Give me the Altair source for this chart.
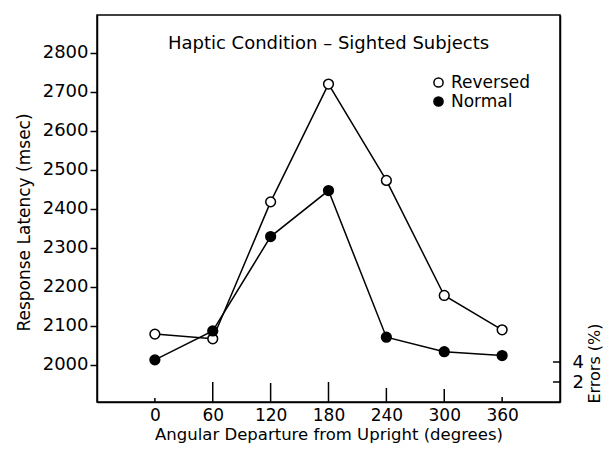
import altair as alt
import pandas as pd

angles = [0, 60, 120, 180, 240, 300, 360]
reversed_ms = [2079, 2067, 2418, 2720, 2473, 2178, 2090]
normal_ms = [2013, 2087, 2329, 2447, 2071, 2034, 2024]
errors_pct = [0.4, 2.0, 1.9, 2.0, 1.4, 1.3, 0.5]
series = ["Reversed", "Normal"]
y_ticks = [2000, 2100, 2200, 2300, 2400, 2500, 2600, 2700, 2800]
err_ticks = [2, 4]
panel_title = "Haptic Condition \u2013 Sighted Subjects"

rows = []
for a, r, n in zip(angles, reversed_ms, normal_ms):
    rows.append({"angle": a, "ms": r, "condition": "Reversed"})
    rows.append({"angle": a, "ms": n, "condition": "Normal"})
df = pd.DataFrame(rows)
err_df = pd.DataFrame({"angle": angles, "err": errors_pct})
tick_df = pd.DataFrame({"err": err_ticks})
title_df = pd.DataFrame({"angle": [180], "ms": [2822], "label": [panel_title]})

FONT = "DejaVu Sans"

x_enc = alt.X(
    "angle:Q",
    scale=alt.Scale(domain=[-60, 420], nice=False, zero=False),
    axis=alt.Axis(
        values=angles, tickSize=0, labelPadding=5, labelFontSize=17, format="d",
        title="Angular Departure from Upright (degrees)", titleFontSize=16.5,
        titleY=37, titleBaseline="alphabetic", titleFontWeight="normal", grid=False,
        domainColor="black", domainWidth=1.5, labelColor="black", titleColor="black",
    ),
)
y_scale = alt.Scale(domain=[1905, 2897], nice=False, zero=False)
y_enc = alt.Y(
    "ms:Q",
    scale=y_scale,
    axis=alt.Axis(
        values=y_ticks, tickSize=7, tickWidth=1.5, tickColor="black", format="d",
        labelPadding=2, labelFontSize=18, labelColor="black",
        title="Response Latency (msec)", titleFontSize=17, titleFontWeight="normal",
        titlePadding=9, titleColor="black", grid=False, titleY=207,
        domainColor="black", domainWidth=1.5,
    ),
)

base = alt.Chart(df)
lines = base.mark_line(color="black", strokeWidth=1.5).encode(
    x=x_enc, y=y_enc, detail="condition:N"
)
points = base.mark_point(
    filled=True, size=95, stroke="black", strokeWidth=1.5, opacity=1, shape="circle"
).encode(
    x=x_enc,
    y=y_enc,
    fill=alt.Fill(
        "condition:N",
        scale=alt.Scale(domain=series, range=["white", "black"]),
        legend=alt.Legend(
            orient="none", legendX=333, legendY=59, title=None, padding=0,
            labelFontSize=17, labelColor="black", labelOffset=4,
            symbolSize=85, symbolType="circle", symbolStrokeColor="black",
            symbolStrokeWidth=1.5, rowPadding=1,
        ),
    ),
)
panel_text = alt.Chart(title_df).mark_text(
    fontSize=18, color="black", align="center", baseline="middle"
).encode(x=alt.X("angle:Q"), y=alt.Y("ms:Q"), text="label:N")

main = alt.layer(lines, points, panel_text)

err_y_scale = alt.Scale(domain=[0, 38.7], nice=False, zero=True)
err_axis = alt.Axis(
    orient="right", values=err_ticks, tickSize=0, labelPadding=12, format="d",
    labelFontSize=18, labelColor="black", grid=False,
    title="Errors (%)", titleFontSize=16, titleFontWeight="normal",
    titleColor="black", titleAngle=270, titleX=34, titleY=348,
    titleAlign="center", titleBaseline="middle",
    domainColor="black", domainWidth=1.5,
)
err_bars = alt.Chart(err_df).mark_rule(color="black", strokeWidth=1.5).encode(
    x=alt.X("angle:Q"),
    y=alt.Y("err:Q", scale=err_y_scale, axis=err_axis),
    y2=alt.datum(0),
)
err_tick_marks = alt.Chart(tick_df).mark_rule(color="black", strokeWidth=1.5).encode(
    y=alt.Y("err:Q", scale=err_y_scale, axis=err_axis),
    x=alt.value(456),
    x2=alt.value(463),
)
errors = alt.layer(err_bars, err_tick_marks)

chart = (
    alt.layer(main, errors)
    .resolve_scale(y="independent", fill="independent")
    .properties(
        width=463, height=387,
        autosize=alt.AutoSizeParams(type="none"),
        padding={"left": 89, "top": 7, "right": 43, "bottom": 42},
    )
    .configure(font=FONT)
    .configure_view(stroke="black", strokeWidth=1.5)
)

chart.save("out.html", embed_options={"renderer": "svg", "actions": False})
